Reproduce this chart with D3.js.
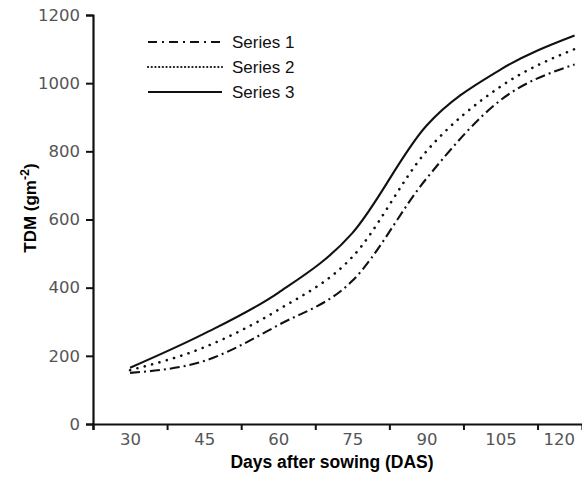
<!DOCTYPE html>
<meta charset="utf-8" />
<script src="https://d3js.org/d3.v7.min.js"></script>
<body style="margin:0;background:#fff">
  <div id="my_dataviz"></div>
  <script>
    // data
    const days = [30, 45, 60, 75, 90, 105, 120];
    const series1 = [150, 185, 290, 420, 720, 950, 1055];
    const series2 = [158, 225, 335, 490, 800, 990, 1100];
    const series3 = [165, 265, 385, 560, 875, 1040, 1140];
    const seriesNames = ["Series 1", "Series 2", "Series 3"];
    const xTickDays = [22.5, 37.5, 52.5, 67.5, 82.5, 97.5, 112.5];
    const yTicks = [0, 200, 400, 600, 800, 1000, 1200];

    var W = 582, H = 477;
    var svg = d3.select("#my_dataviz").append("svg")
      .attr("width", W).attr("height", H);

    var x = d3.scaleLinear().domain([22.5, 121.5]).range([93, 582]);
    var y = d3.scaleLinear().domain([0, 1200]).range([424, 15]);

    // styles for each series (plot / legend)
    var dashes = ["10,4,2,4", "0.1,7.5", null];
    var legendDashes = ["9,5,2,5", "0.1,3.6", null];

    var line = d3.line()
      .x(function (d) { return x(d[0]); })
      .y(function (d) { return y(d[1]); })
      .curve(d3.curveMonotoneX);

    [series1, series2, series3].forEach(function (vals, i) {
      svg.append("path")
        .datum(days.map(function (d, j) { return [d, vals[j]]; }))
        .attr("fill", "none")
        .attr("stroke", "#111")
        .attr("stroke-width", i == 1 ? 2.6 : 2.1)
        .attr("stroke-linecap", i == 1 ? "round" : "butt")
        .attr("stroke-dasharray", dashes[i])
        .attr("d", line);
    });

    // Y axis
    var yAxis = svg.append("g")
      .attr("transform", "translate(93,0)")
      .call(d3.axisLeft(y).tickValues(yTicks).tickFormat(d3.format("d"))
        .tickSize(7).tickPadding(6));
    yAxis.selectAll("text")
      .style("font-family", "DejaVu Sans")
      .style("font-size", "16.5px")
      .attr("fill", "#555");

    // X axis: ticks between days, labels in the middle
    var xAxis = svg.append("g")
      .attr("transform", "translate(0,424)")
      .call(d3.axisBottom(x).tickValues(xTickDays).tickSize(6).tickFormat(""));
    var xLab = svg.append("g")
      .attr("transform", "translate(0,424)")
      .call(d3.axisBottom(x).tickValues(days).tickSize(0).tickPadding(9));
    xLab.select(".domain").remove();
    xLab.selectAll("text")
      .style("font-family", "DejaVu Sans")
      .style("font-size", "16.5px")
      .attr("fill", "#555");
    // last label is pulled in so it stays inside the frame
    xLab.selectAll(".tick").filter(function (d) { return d == 120; })
      .select("text").attr("text-anchor", "end").attr("x", 0);

    svg.selectAll(".domain").attr("stroke", "#111").attr("stroke-width", 2.2);
    svg.selectAll(".tick line").attr("stroke", "#111").attr("stroke-width", 2);

    // axis titles
    svg.append("text")
      .attr("x", 332).attr("y", 468)
      .attr("text-anchor", "middle")
      .style("font-family", "Liberation Sans")
      .style("font-weight", "bold")
      .style("font-size", "17.5px")
      .text("Days after sowing (DAS)");

    var yt = svg.append("text")
      .attr("transform", "translate(36,208) rotate(-90)")
      .attr("text-anchor", "middle")
      .style("font-family", "Liberation Sans")
      .style("font-weight", "bold")
      .style("font-size", "17px");
    yt.append("tspan").text("TDM (gm");
    yt.append("tspan").attr("dy", -7).style("font-size", "12.5px").text("-2");
    yt.append("tspan").attr("dy", 7).text(")");

    // legend
    seriesNames.forEach(function (name, i) {
      var ly = 42 + i * 25;
      svg.append("line")
        .attr("x1", 148).attr("x2", 222)
        .attr("y1", ly).attr("y2", ly)
        .attr("stroke", "#111")
        .attr("stroke-width", i == 1 ? 2.2 : 2.1)
        .attr("stroke-linecap", i == 1 ? "round" : "butt")
        .attr("stroke-dasharray", legendDashes[i]);
      svg.append("text")
        .attr("x", 232).attr("y", ly + 6)
        .style("font-family", "Liberation Sans")
        .style("font-size", "17px")
        .attr("fill", "#111")
        .text(name);
    });
  </script>
</body>
